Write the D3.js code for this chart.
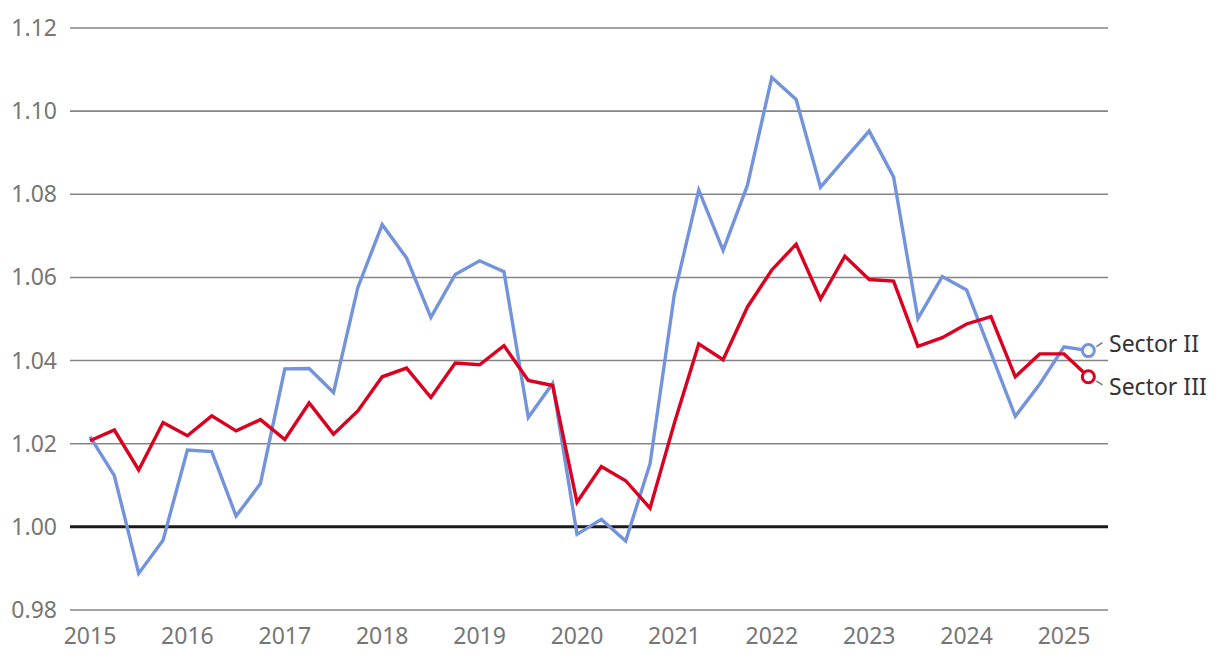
<!DOCTYPE html>
<html>
<head>
<meta charset="utf-8">
<script src="https://cdn.jsdelivr.net/npm/d3@7/dist/d3.min.js"></script>
<style>
  html, body { margin: 0; padding: 0; background: #fff; }
  svg { display: block; font-family: "Noto Sans", "Open Sans", sans-serif; }
</style>
</head>
<body>
<svg id="chart" width="1220" height="666"></svg>
<script>
// Quarterly periods 2015 Q1 .. 2025 Q2
const periods = d3.range(42).map(i => 2015 + i * 0.25);
const yearTicks = [2015, 2016, 2017, 2018, 2019, 2020, 2021, 2022, 2023, 2024, 2025];
const yTicks = [0.98, 1.00, 1.02, 1.04, 1.06, 1.08, 1.10, 1.12];
const seriesNames = ["Sector II", "Sector III"];
const sectorII = [
  1.0217, 1.0123, 0.9888, 0.9968, 1.0185, 1.0181, 1.0026, 1.0104,
  1.0380, 1.0381, 1.0323, 1.0576, 1.0727, 1.0647, 1.0504, 1.0607,
  1.0640, 1.0614, 1.0263, 1.0345, 0.9982, 1.0018, 0.9966, 1.0152,
  1.0560, 1.0810, 1.0665, 1.0822, 1.1081, 1.1028, 1.0817, 1.0885,
  1.0952, 1.0842, 1.0501, 1.0602, 1.0570, 1.0418, 1.0266, 1.0343,
  1.0433, 1.0424
];
const sectorIII = [
  1.0207, 1.0233, 1.0137, 1.0251, 1.0219, 1.0267, 1.0231, 1.0258,
  1.0210, 1.0298, 1.0223, 1.0279, 1.0361, 1.0382, 1.0311, 1.0394,
  1.0390, 1.0436, 1.0352, 1.0340, 1.0059, 1.0145, 1.0111, 1.0045,
  1.0250, 1.0440, 1.0402, 1.0529, 1.0618, 1.0680, 1.0548, 1.0651,
  1.0595, 1.0591, 1.0434, 1.0455, 1.0488, 1.0506, 1.0361, 1.0416,
  1.0416, 1.0361
];
const colors = ["#7393db", "#dc0020"];

const svg = d3.select("#chart");
const x = d3.scaleLinear().domain([2015, 2025]).range([90, 1064]);
const y = d3.scaleLinear().domain([0.98, 1.12]).range([610, 28]);
const gridX0 = 70, gridX1 = 1108;

// gridlines
svg.append("g").selectAll("line").data(yTicks).join("line")
  .attr("x1", gridX0).attr("x2", gridX1)
  .attr("y1", d => y(d)).attr("y2", d => y(d))
  .attr("stroke", d => Math.abs(d - 1) < 1e-9 ? "#1a1a1a" : "#858585")
  .attr("stroke-width", d => Math.abs(d - 1) < 1e-9 ? 3 : 1.6);

// y labels
svg.append("g").selectAll("text").data(yTicks).join("text")
  .attr("x", 57).attr("y", d => y(d)).attr("dy", "0.35em")
  .attr("text-anchor", "end").attr("fill", "#767676")
  .attr("font-size", 23).text(d => d.toFixed(2));

// x labels
svg.append("g").selectAll("text").data(yearTicks).join("text")
  .attr("x", d => x(d)).attr("y", 636).attr("dy", "0.35em")
  .attr("text-anchor", "middle").attr("fill", "#767676")
  .attr("font-size", 23).text(d => d);

const line = d3.line().x((d, i) => x(periods[i])).y(d => y(d));
const allSeries = [sectorII, sectorIII];

allSeries.forEach((s, k) => {
  svg.append("path").datum(s)
    .attr("d", line).attr("fill", "none")
    .attr("stroke", colors[k]).attr("stroke-width", 3.4)
    .attr("stroke-linejoin", "miter");
});

// end markers and labels
const labelY = [344, 387];
allSeries.forEach((s, k) => {
  const last = s.length - 1;
  const cx = x(periods[last]), cy = y(s[last]);
  svg.append("line")
    .attr("x1", cx + 8).attr("y1", k === 0 ? cy - 4 : cy + 4)
    .attr("x2", cx + 14).attr("y2", k === 0 ? cy - 8 : cy + 8)
    .attr("stroke", "#777").attr("stroke-width", 1.5);
  svg.append("circle").attr("cx", cx).attr("cy", cy).attr("r", 6)
    .attr("fill", "#fff").attr("stroke", colors[k]).attr("stroke-width", 3);
  svg.append("text").attr("x", 1109).attr("y", labelY[k]).attr("dy", "0.35em")
    .attr("fill", "#333").attr("font-size", 23).text(seriesNames[k]);
});
</script>
</body>
</html>
